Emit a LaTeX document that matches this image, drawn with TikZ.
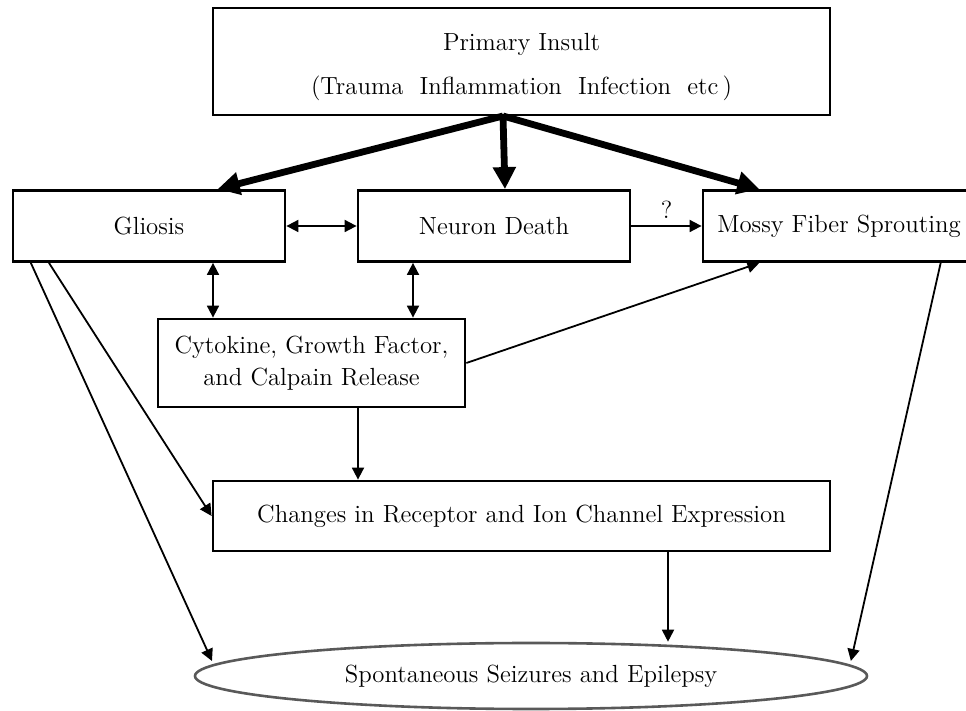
\documentclass[tikz,border=0pt]{standalone}
\usepackage{tikz}
\usetikzlibrary{arrows.meta,shapes.geometric,calc}

\begin{document}
\begin{tikzpicture}[x=0.5pt, y=-0.5pt,
  box/.style={draw, line width=1.4pt, rectangle, align=center, inner sep=0pt,
    font=\fontsize{12.4}{16}\selectfont},
  oneway/.style={line width=0.9pt, -{Triangle[length=6pt,width=6pt]}},
  twoway/.style={line width=0.9pt, {Triangle[length=6pt,width=6pt]}-{Triangle[length=6pt,width=6pt]}},
  bigarrow/.style={line width=3.4pt, -{Triangle[length=11pt,width=11pt]}}]
  \useasboundingbox (0,0) rectangle (966,711);

  % Boxes
  \node[box, minimum width=308.5pt, minimum height=53.5pt] (insult) at (521.5,61.5)
    {\rule{0pt}{14pt}Primary Insult\\[6pt](Trauma\ \ Inflammation\ \ Infection\ \ etc\,)};
  \node[box, minimum width=136pt, minimum height=35.5pt] (glio) at (149,226) {Gliosis};
  \node[box, minimum width=136pt, minimum height=35.5pt] (death) at (494,226) {Neuron Death};
  \node[box, minimum width=136pt, minimum height=35.5pt] (mossy) at (839,226) {Mossy Fiber Sprouting};
  \node[box, minimum width=153.5pt, minimum height=44pt] (cyto) at (311.5,363)
    {Cytokine, Growth Factor,\\and Calpain Release};
  \node[box, minimum width=308.5pt, minimum height=35pt] (change) at (521.5,516)
    {Changes in Receptor and Ion Channel Expression};
  \node[ellipse, draw=black!65, line width=1.3pt, inner sep=0pt, minimum width=336pt,
    minimum height=33pt, font=\fontsize{12.4}{16}\selectfont] (seiz) at (531,676)
    {Spontaneous Seizures and Epilepsy};

  % Guides for the vertical links
  \coordinate (src) at (503,116);
  \coordinate (gx) at (213,0);
  \coordinate (dx) at (413,0);
  \coordinate (cx) at (358,0);
  \coordinate (ex) at (668,0);
  \coordinate (glend) at (212,661);

  % Primary insult
  \draw[bigarrow] (src) -- ($(glio.north west)!0.75!(glio.north east)$);
  \draw[bigarrow] (src) -- ($(death.north west)!0.54!(death.north east)$);
  \draw[bigarrow] (src) -- ($(mossy.north west)!0.21!(mossy.north east)$);

  % Middle row
  \draw[twoway] (glio.east) -- (death.west);
  \draw[oneway] (death.east) -- node[above, font=\fontsize{12.4}{16}\selectfont] {?} (mossy.west);
  \draw[twoway] (glio.south -| gx) -- (cyto.north -| gx);
  \draw[twoway] (death.south -| dx) -- (cyto.north -| dx);
  \draw[oneway] (cyto.east) -- ($(mossy.south west)!0.21!(mossy.south east)$);

  % Towards the seizures
  \draw[oneway] (cyto.south -| cx) -- (change.north -| cx);
  \draw[oneway] ($(glio.south west)!0.136!(glio.south east)$) -- (change.west);
  \draw[oneway] ($(glio.south west)!0.07!(glio.south east)$) -- (glend);
  \draw[oneway] (change.south -| ex) -- (seiz.north -| ex);
  \draw[oneway, shorten >=2pt] ($(mossy.south west)!0.87!(mossy.south east)$) -- (seiz.2.2);
\end{tikzpicture}
\end{document}
